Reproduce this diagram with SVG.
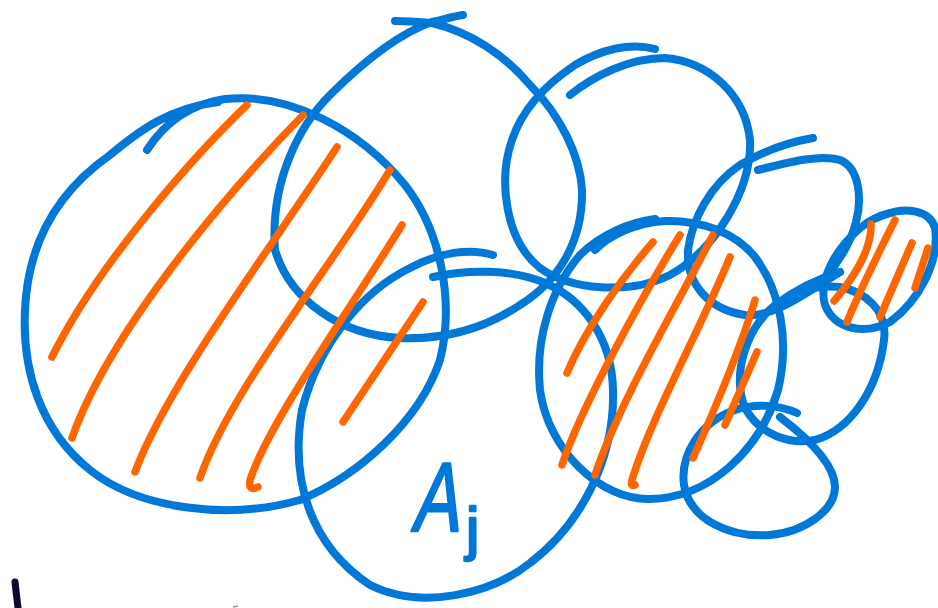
<svg xmlns="http://www.w3.org/2000/svg" width="938" height="608" viewBox="0 0 938 608">
<style>
.b{fill:none;stroke:#0078D7;stroke-width:8;stroke-linecap:round;stroke-linejoin:round}
.o{fill:none;stroke:#FF6600;stroke-width:7.5;stroke-linecap:round;stroke-linejoin:round}
.t{fill:#0078D7;stroke:#0078D7;stroke-width:2.5;stroke-linejoin:round;font-family:"Liberation Sans",Arial,sans-serif}
</style>
<rect width="938" height="608" fill="#ffffff"/>
<g id="circle-left">
<path class="b" d="M147,150 C165,122 190,104 225,99 C290,92 360,130 405,185 C440,230 455,300 440,360 C420,420 360,475 300,500 C230,520 140,510 90,470 C40,430 22,370 25,310 C28,240 60,190 110,155 C140,130 170,108 218,102"/>
</g>
<g id="circle-top">
<path class="b" d="M395,21 C410,21 420,22 432,23 C470,32 505,55 530,85 C560,115 580,155 582,190 C583,240 560,280 520,305 C490,325 450,340 400,338 C340,335 290,300 275,250 C270,180 300,125 330,95 C360,65 395,35 432,22 C445,19 455,16 463,15"/>
</g>
<g id="circle-b">
<path class="b" d="M570,95 C595,75 630,58 665,58 C710,62 745,95 750,140 C752,190 715,250 670,275 C630,295 570,290 540,268 C505,240 498,180 512,140 C522,110 545,85 575,65 C600,50 630,42 655,49"/>
</g>
<g id="circle-aj">
<path class="b" d="M493,255 C470,248 440,252 410,268 C365,290 320,340 302,410 C290,480 310,545 370,585 C420,610 490,595 530,563 C580,525 615,460 613,390 C612,340 585,300 545,283 C510,268 465,270 433,277"/>
<text class="t" font-size="98" transform="translate(411,531) skewX(-10) scale(0.72,1)">A</text>
<text class="t" font-size="60" x="466" y="549">j</text>
</g>
<g id="circle-d">
<path class="b" d="M655,219 C630,222 600,235 580,255 C550,290 535,340 540,390 C548,450 600,500 650,499 C710,498 760,450 778,390 C790,340 780,290 755,257 C735,232 700,220 665,221 C635,223 610,235 595,250"/>
</g>
<g id="circle-e">
<path class="b" d="M813,138 C790,142 765,150 740,165 C710,185 692,220 688,250 C686,285 710,310 745,315 C775,318 810,290 840,272"/>
<path class="b" d="M758,170 C790,162 820,154 840,160 C860,168 862,200 856,222 C850,245 840,258 830,272"/>
</g>
<g id="circle-f">
<path class="b" d="M887,214 C905,207 930,210 935,228 C940,260 920,300 890,322 C865,335 835,330 825,305 C818,280 835,250 860,228 C870,220 878,216 890,213"/>
</g>
<g id="circle-g">
<path class="b" d="M840,272 C820,278 795,290 775,305 C745,330 732,375 745,408 C760,435 790,445 815,440 C850,430 878,390 884,340 C888,310 865,292 840,287 C825,285 812,288 803,290"/>
</g>
<g id="circle-h">
<path class="b" d="M797,413 C780,405 755,403 735,410 C700,422 680,455 684,485 C690,520 730,538 770,535 C805,532 835,510 835,487 C835,465 810,440 780,417"/>
</g>
<g id="hatching">
<path class="o" d="M247,105 C200,150 100,260 52,357"/>
<path class="o" d="M303,115 C230,190 110,330 72,438"/>
<path class="o" d="M337,147 C270,250 170,380 135,472"/>
<path class="o" d="M390,170 C330,270 230,390 200,478"/>
<path class="o" d="M402,225 C350,310 270,420 250,480 Q248,492 258,487"/>
<path class="o" d="M423,302 L343,422"/>
<path class="o" d="M653,242 C620,280 585,330 567,373"/>
<path class="o" d="M680,235 C640,300 580,410 562,465"/>
<path class="o" d="M713,235 C680,300 620,400 595,475"/>
<path class="o" d="M730,257 C700,330 650,420 632,480 Q630,487 635,485"/>
<path class="o" d="M755,300 C740,350 710,420 693,458"/>
<path class="o" d="M757,352 L725,425"/>
<path class="o" d="M871,224 C872,250 852,280 834,301"/>
<path class="o" d="M895,220 C880,250 860,290 847,322"/>
<path class="o" d="M912,243 L880,317"/>
<path class="o" d="M928,248 L915,288"/>
</g>
<g id="marks">
<path d="M15,582 L18,608" fill="none" stroke="#0a0a33" stroke-width="7" stroke-linecap="round"/>
<path d="M233,607 L238,606" fill="none" stroke="#999999" stroke-width="1.5"/>
</g>
</svg>
